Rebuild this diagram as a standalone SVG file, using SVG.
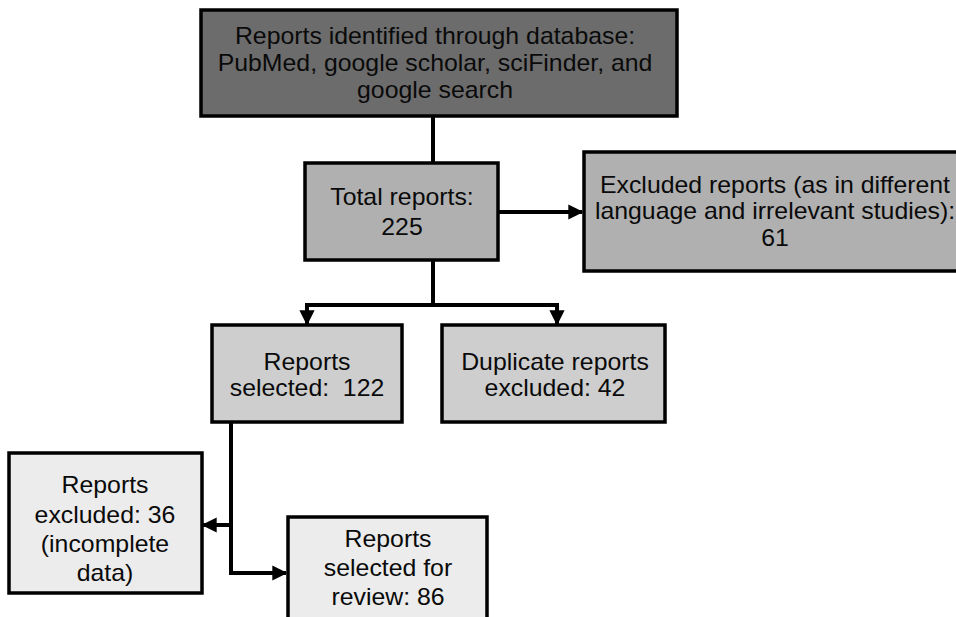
<svg xmlns="http://www.w3.org/2000/svg" width="956" height="617" viewBox="0 0 956 617">
<style>
.box{stroke:#000;stroke-width:3.5}
.t{font-family:"Liberation Sans",Arial,sans-serif;font-size:23px;fill:#0a0a0a;text-anchor:middle}
.c{stroke:#000;stroke-width:4;fill:none}
</style>
<defs>
<marker id="ah" viewBox="0 0 10 10" refX="9" refY="5" markerWidth="3.8" markerHeight="3.8" orient="auto" markerUnits="strokeWidth">
<path d="M0,0 L10,5 L0,10 z" fill="#000"/>
</marker>
</defs>
<rect width="956" height="617" fill="#fff"/>
<g id="connectors">
<line class="c" x1="433" y1="116" x2="433" y2="163"/>
<line class="c" x1="498" y1="212" x2="582" y2="212" marker-end="url(#ah)"/>
<polyline class="c" points="433,260 433,305"/>
<polyline class="c" points="305,305 559,305"/>
<line class="c" x1="307" y1="305" x2="307" y2="324" marker-end="url(#ah)"/>
<line class="c" x1="557" y1="305" x2="557" y2="324" marker-end="url(#ah)"/>
<line class="c" x1="231" y1="422" x2="231" y2="575"/>
<line class="c" x1="231" y1="525" x2="203" y2="525" marker-end="url(#ah)"/>
<line class="c" x1="229" y1="573" x2="286" y2="573" marker-end="url(#ah)"/>
</g>
<g id="n-identified">
<rect class="box" x="201" y="10" width="476" height="106" fill="#6c6c6c"/>
<text class="t" transform="translate(435 0) scale(1.08 1)"><tspan x="0" y="44">Reports identified through database:</tspan><tspan x="0" y="71">PubMed, google scholar, sciFinder, and</tspan><tspan x="0" y="98">google search</tspan></text>
</g>
<g id="n-total">
<rect class="box" x="305" y="163" width="193" height="97" fill="#b0b0b0"/>
<text class="t" transform="translate(402 0) scale(1.08 1)"><tspan x="0" y="205">Total reports:</tspan><tspan x="0" y="235">225</tspan></text>
</g>
<g id="n-excluded-lang">
<rect class="box" x="584" y="152" width="380" height="119" fill="#b0b0b0"/>
<text class="t" transform="translate(775 0) scale(1.08 1)"><tspan x="0" y="193">Excluded reports (as in different</tspan><tspan x="0" y="219">language and irrelevant studies):</tspan><tspan x="0" y="246">61</tspan></text>
</g>
<g id="n-selected">
<rect class="box" x="212" y="325" width="190" height="97" fill="#cecece"/>
<text class="t" transform="translate(307 0) scale(1.08 1)"><tspan x="0" y="370">Reports</tspan><tspan x="0" y="396">selected:&#160; 122</tspan></text>
</g>
<g id="n-duplicate">
<rect class="box" x="442" y="325" width="223" height="97" fill="#cecece"/>
<text class="t" transform="translate(555 0) scale(1.08 1)"><tspan x="0" y="370">Duplicate reports</tspan><tspan x="0" y="396">excluded: 42</tspan></text>
</g>
<g id="n-excluded-36">
<rect class="box" x="9" y="453" width="193" height="140" fill="#ececec"/>
<text class="t" transform="translate(105 0) scale(1.08 1)"><tspan x="0" y="493">Reports</tspan><tspan x="0" y="523">excluded: 36</tspan><tspan x="0" y="552">(incomplete</tspan><tspan x="0" y="581">data)</tspan></text>
</g>
<g id="n-review">
<rect class="box" x="288" y="517" width="199" height="115" fill="#ececec"/>
<text class="t" transform="translate(388 0) scale(1.08 1)"><tspan x="0" y="547">Reports</tspan><tspan x="0" y="576">selected for</tspan><tspan x="0" y="605">review: 86</tspan></text>
</g>
</svg>
